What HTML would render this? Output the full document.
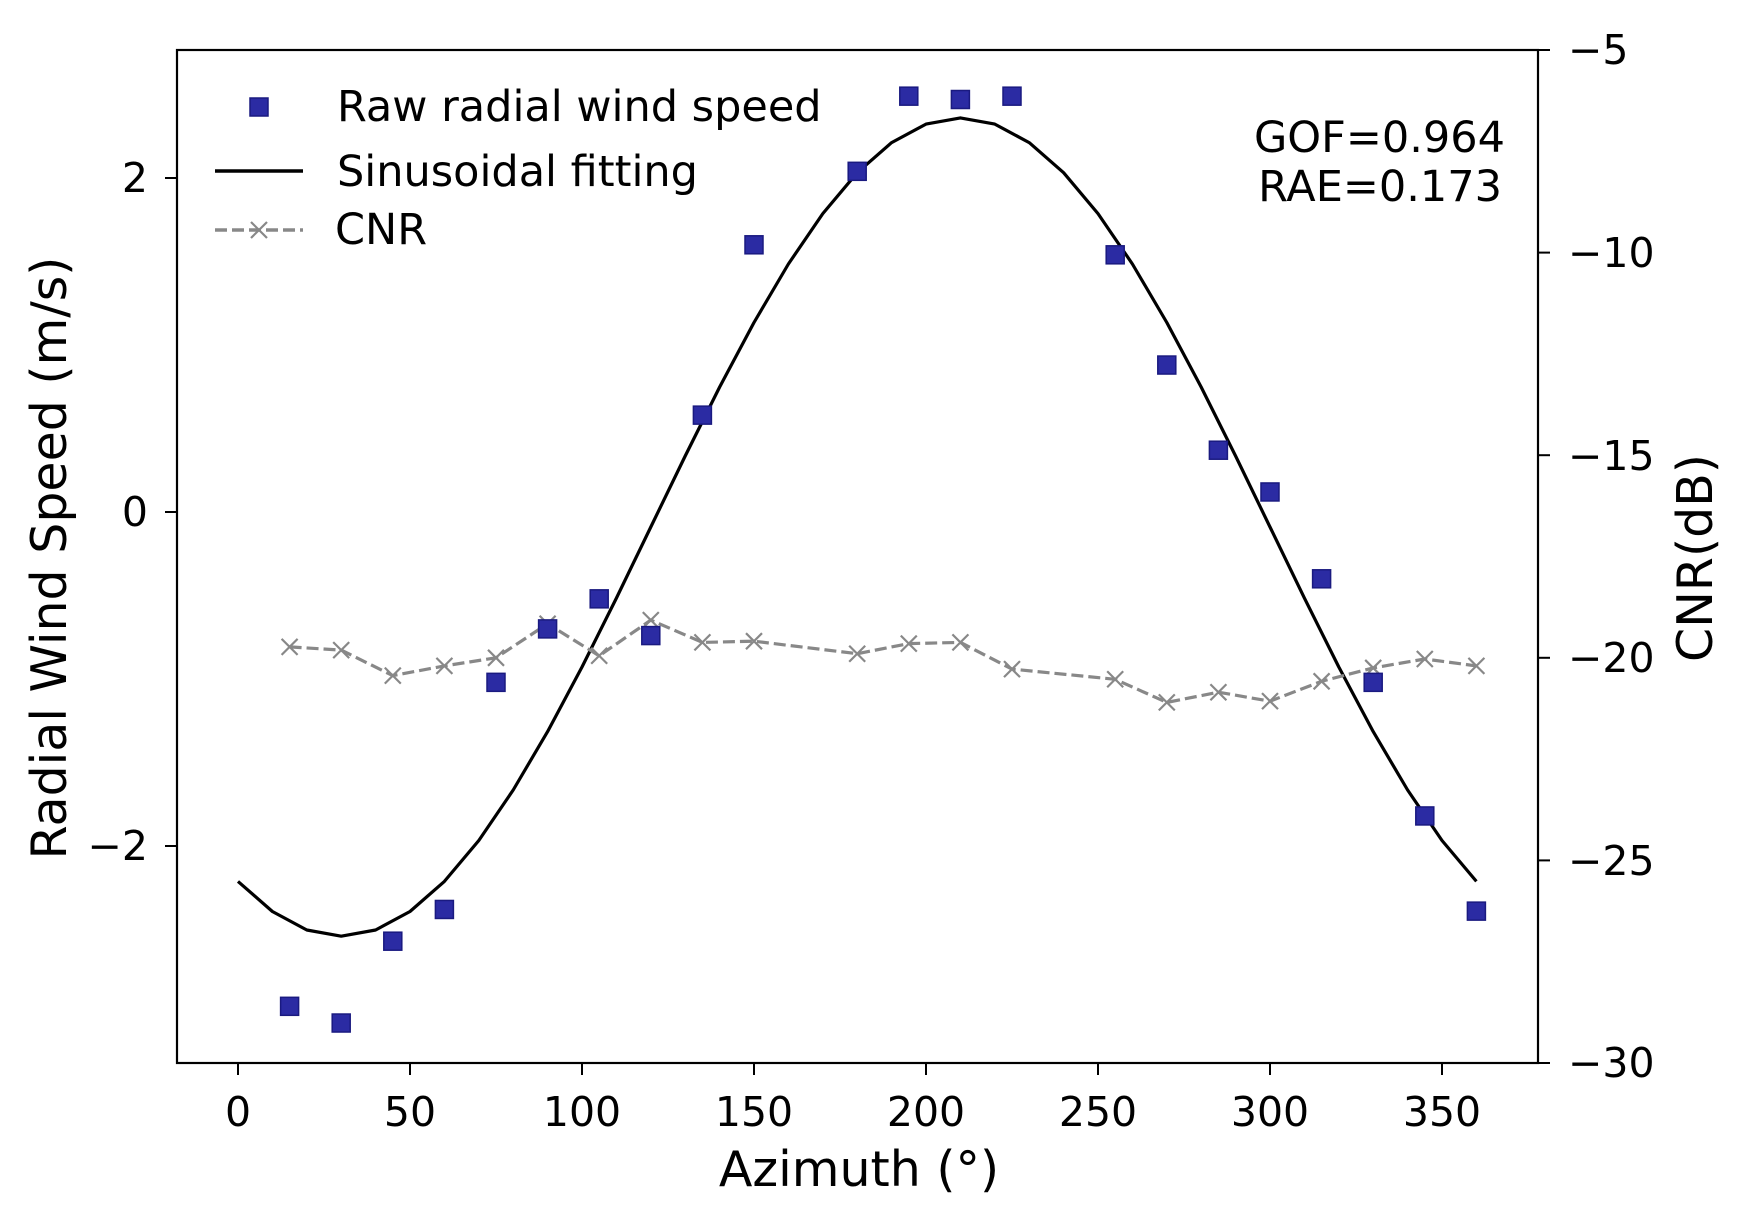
<!DOCTYPE html>
<html><head><meta charset="utf-8"><style>
html,body{margin:0;padding:0;background:#fff;}
svg{display:block;font-family:"DejaVu Sans","Liberation Sans",sans-serif;}
</style></head><body>
<svg id="s" width="1740" height="1214" viewBox="0 0 1740 1214" xmlns="http://www.w3.org/2000/svg">
<rect x="0" y="0" width="1740" height="1214" fill="#fff"/>
<g id="g"></g>
<rect x="177" y="50" width="1361" height="1013" fill="none" stroke="#000" stroke-width="2.2"/>
<g font-size="41" fill="#000">
<text x="148" y="192" text-anchor="end">2</text>
<text x="148" y="526" text-anchor="end">0</text>
<text x="148" y="860" text-anchor="end">−2</text>
<text x="1568" y="64">−5</text>
<text x="1568" y="267">−10</text>
<text x="1568" y="470">−15</text>
<text x="1568" y="672">−20</text>
<text x="1568" y="875">−25</text>
<text x="1568" y="1077">−30</text>
<text x="238" y="1126" text-anchor="middle">0</text>
<text x="410" y="1126" text-anchor="middle">50</text>
<text x="582" y="1126" text-anchor="middle">100</text>
<text x="754" y="1126" text-anchor="middle">150</text>
<text x="926" y="1126" text-anchor="middle">200</text>
<text x="1098" y="1126" text-anchor="middle">250</text>
<text x="1270" y="1126" text-anchor="middle">300</text>
<text x="1442" y="1126" text-anchor="middle">350</text>
</g>
<g font-size="49" fill="#000">
<text x="859" y="1186" text-anchor="middle">Azimuth (°)</text>
<text transform="translate(66,558) rotate(-90)" text-anchor="middle">Radial Wind Speed (m/s)</text>
<text transform="translate(1712,558) rotate(-90)" text-anchor="middle">CNR(dB)</text>
</g>
<g font-size="43" fill="#000">
<text x="337" y="121">Raw radial wind speed</text>
<text x="337" y="186">Sinusoidal fitting</text>
<text x="335" y="244">CNR</text>
<text x="1505" y="152" text-anchor="end">GOF=0.964</text>
<text x="1502" y="201" text-anchor="end">RAE=0.173</text>
</g>
<rect x="250" y="98" width="18" height="18" fill="#2b2ba3" stroke="#1a1a80" stroke-width="1.5"/>
<line x1="215" y1="171" x2="303" y2="171" stroke="#000" stroke-width="3.5"/>
<line x1="215" y1="230" x2="303" y2="230" stroke="#888" stroke-width="3.5" stroke-dasharray="12,5"/>
<path d="M251 222 L267 238 M251 238 L267 222" stroke="#888" stroke-width="2.2"/>
</svg>
<script>
var X=function(a){return 238+a*3.44},YL=function(v){return 512-v*167},YR=function(d){return 50+(-5-d)*40.52};
var g=document.getElementById('g'),h='';
[0,50,100,150,200,250,300,350].forEach(function(a){h+='<line x1="'+X(a)+'" y1="1063" x2="'+X(a)+'" y2="1075" stroke="#000" stroke-width="2"/>';});
[-2,0,2].forEach(function(v){h+='<line x1="165" y1="'+YL(v)+'" x2="177" y2="'+YL(v)+'" stroke="#000" stroke-width="2"/>';});
[-5,-10,-15,-20,-25,-30].forEach(function(d){h+='<line x1="1538" y1="'+YR(d)+'" x2="1550" y2="'+YR(d)+'" stroke="#000" stroke-width="2"/>';});
var az=[15,30,45,60,75,90,105,120,135,150,180,195,210,225,255,270,285,300,315,330,345,360];
var ws=[-2.96,-3.06,-2.57,-2.38,-1.02,-0.70,-0.52,-0.74,0.58,1.60,2.04,2.49,2.47,2.49,1.54,0.88,0.37,0.12,-0.40,-1.02,-1.82,-2.39];
var cn=[-19.73,-19.81,-20.44,-20.2,-20.0,-19.16,-19.95,-19.07,-19.62,-19.59,-19.9,-19.65,-19.62,-20.28,-20.53,-21.1,-20.85,-21.07,-20.58,-20.25,-20.03,-20.2];
var p='';for(var a=0;a<=360;a+=10){var v=-0.09+2.45*Math.cos((a-210)*Math.PI/180);p+=(a?'L':'M')+X(a).toFixed(1)+' '+YL(v).toFixed(1);}
h+='<path d="'+p+'" fill="none" stroke="#000" stroke-width="3.2" stroke-linejoin="round"/>';
var q='';az.forEach(function(a,i){q+=(i?'L':'M')+X(a)+' '+YR(cn[i]).toFixed(1);});
h+='<path d="'+q+'" fill="none" stroke="#888" stroke-width="3.2" stroke-dasharray="12,5"/>';
az.forEach(function(a,i){var x=X(a),y=YR(cn[i]);h+='<path d="M'+(x-8)+' '+(y-8)+'L'+(x+8)+' '+(y+8)+'M'+(x-8)+' '+(y+8)+'L'+(x+8)+' '+(y-8)+'" stroke="#888" stroke-width="2.2"/>';});
az.forEach(function(a,i){var x=X(a),y=YL(ws[i]);h+='<rect x="'+(x-9)+'" y="'+(y-9)+'" width="18" height="18" fill="#2b2ba3" stroke="#1a1a80" stroke-width="1.5"/>';});
g.innerHTML=h;
</script>
</body></html>
